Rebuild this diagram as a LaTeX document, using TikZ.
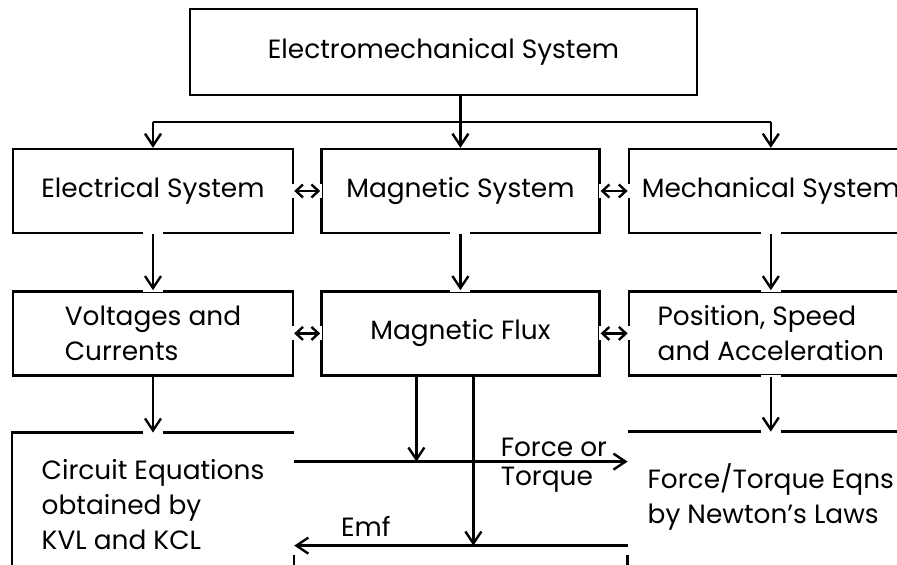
\documentclass[tikz,border=0pt]{standalone}
\usepackage{fontspec}
\setmainfont{Poppins}
\usetikzlibrary{positioning,arrows.meta}
\tikzset{
  blk/.style={rectangle, draw, line width=1.2pt, minimum height=42pt,
              minimum width=140pt, align=left, inner sep=0pt,
              font=\fontsize{13.2}{17.5}\selectfont},
  blkopen/.style={blk, draw=none},
  edge/.style={line width=1.2pt},
  flow/.style={-{Straight Barb[length=6pt,width=8pt]}, line width=1.2pt},
  biflow/.style={{Straight Barb[length=3.5pt,width=6.5pt]}-{Straight Barb[length=3.5pt,width=6.5pt]}, line width=1.2pt},
  gap/.style={draw=white, line width=10pt, shorten <=-1pt, shorten >=-1pt},
  lbl/.style={font=\fontsize{13.2}{17.5}\selectfont, inner sep=2pt},
}
\begin{document}
\begin{tikzpicture}[x=0.5pt, y=-0.5pt]
  \useasboundingbox (0,0) rectangle (897,564);
  \clip (0,0) rectangle (897,564);

  \node[blk, minimum width=253.5pt, minimum height=43pt] (top) at (443.5,52) {Electromechanical System};

  % systems
  \node[blk] (elec) at (153,191) {Electrical System};
  \node[blk, right=13pt of elec, minimum width=139pt] (magn) {Magnetic System};
  \node[blk, right=13.5pt of magn, minimum width=142pt] (mech) {Mechanical System};

  % quantities
  \node[blk, below=28pt of elec] (volt) {Voltages and\\Currents};
  \node[blk, below=28pt of magn, minimum width=139pt] (flux) {Magnetic Flux};
  \node[blk, below=28pt of mech, minimum width=142pt] (posn) {Position, Speed\\and Acceleration};

  % equations (open at the bottom)
  \node[blkopen, below=28pt of volt, minimum height=71pt] (circ) {Circuit Equations\\obtained by\\KVL and KCL};
  \node[blkopen, below=27.5pt of posn, minimum width=142pt, minimum height=64pt] (newt) {Force/Torque Eqns\\by Newton's Laws};

  \coordinate (bus) at ([yshift=-13pt]top.south);
  \coordinate (fl) at ([yshift=-42.5pt]flux.south);
  \coordinate (em) at ([yshift=-84.5pt]flux.south);
  \coordinate (f1) at ([xshift=-22pt]flux.south);
  \coordinate (f2) at ([xshift=6.5pt]flux.south);

  \draw[edge] ([yshift=-20pt]circ.south west) -- (circ.north west) -- (circ.north east);
  \draw[edge] ([yshift=-4.5pt]circ.east |- em) -- ([yshift=-20pt]circ.south east);
  \draw[edge] (newt.north west) -- (newt.north east);
  \draw[edge] ([yshift=-4.5pt]newt.west |- em) -- ([yshift=-20pt]newt.south west);

  % from the whole system
  \draw[edge] (top.south -| magn.north) -- (bus -| magn.north);
  \draw[edge] (bus -| elec.north) -- (bus -| mech.north);
  \draw[flow] (bus -| elec.north) -- (elec.north);
  \draw[flow] (bus -| magn.north) -- (magn.north);
  \draw[flow] (bus -| mech.north) -- (mech.north);

  % couplings
  \draw[gap, line width=7pt] (elec) -- (magn);
  \draw[gap, line width=7pt] (magn) -- (mech);
  \draw[gap, line width=7pt] (volt) -- (flux);
  \draw[gap, line width=7pt] (flux) -- (posn);
  \draw[biflow] (elec) -- (magn);
  \draw[biflow] (magn) -- (mech);
  \draw[biflow] (volt) -- (flux);
  \draw[biflow] (flux) -- (posn);

  \draw[gap] (elec) -- (volt);
  \draw[gap] (magn) -- (flux);
  \draw[gap] (mech) -- (posn);
  \draw[gap, shorten <=1pt] (volt) -- (circ);
  \draw[gap] (posn) -- (newt);
  \draw[flow] (elec) -- (volt);
  \draw[flow] (magn) -- (flux);
  \draw[flow] (mech) -- (posn);
  \draw[flow] (volt) -- (circ);
  \draw[flow] (posn) -- (newt);

  % force and emf
  \draw[flow] (circ.east |- fl) -- node[lbl, above right, pos=0.604]{Force or}
    node[lbl, below right, pos=0.604]{Torque} (newt.west |- fl);
  \draw[flow] (f1) -- (f1 |- fl);
  \draw[flow] (f2) -- (f2 |- em);
  \draw[flow] (newt.west |- em) -- node[lbl, above, pos=0.785, yshift=2pt]{Emf} (circ.east |- em);
\end{tikzpicture}
\end{document}
